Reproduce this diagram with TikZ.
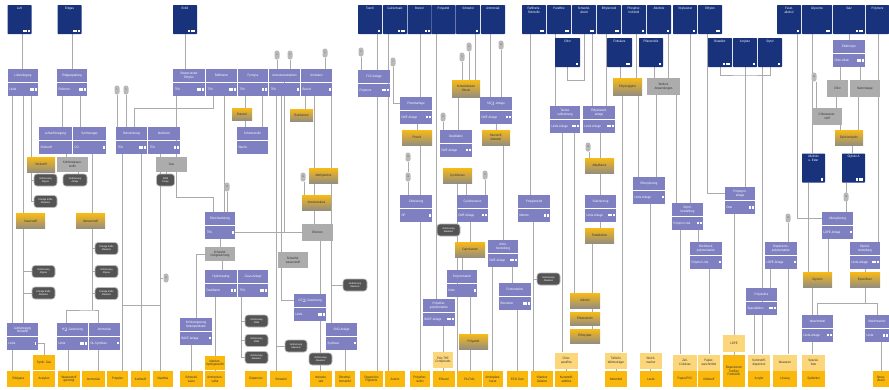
\documentclass[tikz,border=0pt]{standalone}
\usepackage{fontspec}
\setmainfont{Liberation Sans}[FakeStretch=0.85]
\usetikzlibrary{backgrounds}
\definecolor{rawC}{RGB}{24,50,124}
\definecolor{plantC}{RGB}{126,128,194}
\definecolor{prodC}{RGB}{248,186,22}
\definecolor{prodB}{RGB}{150,142,126}
\definecolor{endC}{RGB}{250,184,12}
\definecolor{paleC}{RGB}{252,214,122}
\definecolor{greyC}{RGB}{172,172,172}
\definecolor{pillC}{RGB}{84,84,84}
\definecolor{linkC}{RGB}{170,170,170}
\newcommand\fs{\fontsize{3.3}{3.7}\selectfont}
\newcommand\fss{\fontsize{2.5}{2.9}\selectfont}
\newcommand\pips[1]{\ifnum#1>0 \foreach\k in {1,...,#1}{\kern0.6pt\rule{1.9pt}{2.3pt}}\fi}
\newcommand\rawtxt[3][20pt]{\parbox[c][25pt][s]{#1}{\centering #2\par\vfill\raggedleft\pips{#3}\par}}
% plant box: name, x, top y, width, title, subline, pips
\newcommand\plant[7]{%
  \node[ptop,minimum width=#4] (#1) at (#2,#3) {#5};
  \node[pbot] (#1b) at ([yshift=-0.7pt]#1.south) {\makebox[\dimexpr#4pt-3pt\relax]{#6\hfill\pips{#7}}};}
\newcommand\vl[3]{\draw[link] (#3,0 |- #1.south) -- (#3,0 |- #2.north);}

\begin{document}
\begin{tikzpicture}[x=1pt,y=-1pt,font=\fs,
 raw/.style={fill=rawC,text=white,rounded corners=0.6pt,inner sep=2pt},
 ptop/.style={fill=plantC,text=white,anchor=north,minimum height=13,inner sep=1pt,align=center},
 pbot/.style={fill=plantC,text=white,anchor=north,minimum height=12.5,inner xsep=1.5pt,inner ysep=0.5pt},
 prod/.style={top color=prodC,middle color=prodC,bottom color=prodB,text=black!80,minimum width=29,minimum height=15,inner sep=0.5pt,align=center},
 grey/.style={fill=greyC,text=black!80,minimum width=30,minimum height=16,inner sep=0.5pt,align=center},
 pale/.style={fill=paleC,text=black!80,minimum width=22,minimum height=16,inner sep=0.5pt,align=center},
 endp/.style={fill=endC,text=black!80,minimum width=22,minimum height=16,inner sep=0.5pt,align=center},
 pill/.style={fill=pillC,draw=gray!55,line width=0.7pt,rounded corners=3pt,text=white,minimum width=22,minimum height=12,inner sep=0.3pt,align=center,font=\fss},
 infom/.style={fill=gray!55,rounded corners=2.3pt,minimum width=5,minimum height=9,inner sep=0pt,font=\fss,text=black!60},
 link/.style={draw=linkC,line width=0.8pt}]
\useasboundingbox (0,0) rectangle (889,389);

% raw materials
\node[raw] (luft) at (19.5,19.5) {\rawtxt{Luft}{3}};
\node[raw] (erdgas) at (69.5,19.5) {\rawtxt{Erdgas}{3}};
\node[raw] (erdoel) at (185,19.5) {\rawtxt{Erdöl}{3}};
\node[raw] (thor) at (370,19.5) {\rawtxt{Teeröl}{1}};
\node[raw] (calc) at (395,19.5) {\rawtxt{Calciumsalz}{3}};
\node[raw] (benz) at (419.5,19.5) {\rawtxt{Benzol}{2}};
\node[raw] (polyam) at (443.5,19.5) {\rawtxt{Polyamid}{0}};
\node[raw] (schwe) at (468,19.5) {\rawtxt{Schwefel}{1}};
\node[raw] (ammon) at (493,19.5) {\rawtxt{Ammoniak}{0}};
\node[raw] (roh) at (534,19.5) {\rawtxt{Raffinerie-\\Rohstoffe}{2}};
\node[raw] (para) at (559,19.5) {\rawtxt{Paraffine}{2}};
\node[raw] (so2) at (584,19.5) {\rawtxt{Schwefel-\\dioxid}{2}};
\node[raw] (etox) at (609,19.5) {\rawtxt{Ethylenoxid}{2}};
\node[raw] (phos) at (634,19.5) {\rawtxt{Phosphor-\\trichlorid}{1}};
\node[raw] (alko) at (659,19.5) {\rawtxt{Alkohole}{1}};
\node[raw] (viny) at (685,19.5) {\rawtxt{Vinylacetat}{1}};
\node[raw] (ethy) at (710,19.5) {\rawtxt{Ethylen}{2}};
\node[raw] (fus) at (789,19.5) {\rawtxt{Fusel-\\alkohol}{1}};
\node[raw] (glc) at (817,19.5) {\rawtxt[26pt]{Glycerine}{2}};
\node[raw] (salz) at (849,19.5) {\rawtxt[28pt]{Salz}{3}};
\node[raw] (polym) at (877.5,19.5) {\rawtxt[19pt]{Polymere}{0}};
\node[raw] (chlor) at (567.5,52.5) {\rawtxt[21pt]{Chlor}{1}};
\node[raw] (fett) at (619.5,52.5) {\rawtxt[21pt]{Fettsäure}{2}};
\node[raw] (pfl) at (651,52.5) {\rawtxt[20pt]{Pflanzenöle}{1}};
\node[raw] (buta) at (720,52.5) {\rawtxt{Butadien}{3}};
\node[raw] (acry) at (745,52.5) {\rawtxt{Acrylate}{1}};
\node[raw] (styro) at (770,52.5) {\rawtxt{Styrol}{1}};
\node[raw] (alkest) at (813.5,168) {\rawtxt[19pt]{Alkohole\\u. Ester}{1}};
\node[raw] (glykA) at (853.5,168) {\rawtxt[19pt]{Glykole A}{3}};

% plants
\plant{luz}{23}{69}{30}{Luftzerlegung}{Linde}{3}
\plant{egs}{72}{69}{30}{Erdgasspaltung}{Reformer}{3}
\plant{stc}{189}{69}{32}{Steamcracker\\Ethylen}{75\%}{3}
\plant{raf}{221.5}{69}{31}{Raffination}{75\%}{3}
\plant{pyr}{253}{69}{30}{Pyrolyse}{75\%}{2}
\plant{aro}{284.5}{69}{31}{Aromatenextraktion}{75\%}{1}
\plant{bzl}{316.5}{69}{31}{Aromaten}{Benzol}{1}
\plant{fcc}{374}{70}{32}{FCC-Anlage}{Polymere}{3}
\plant{phen}{416}{97}{32}{Phenolanlage}{DMF-Anlage}{2}
\plant{so3}{496}{97}{32}{SO$_3$-Anlage}{DMF-Anlage}{2}
\plant{tens}{565}{106}{30}{Tensid-\\sulfonierung}{Linde Anlage}{3}
\plant{eox}{599}{106}{32}{Ethylenoxid-\\anlage}{Linde Anlage}{3}
\plant{elek}{849}{40}{32}{Elektrolyse}{Chlor-Alkali}{3}
\plant{lvf}{55.5}{127}{33}{Luftverflüssigung}{Stickstoff}{0}
\plant{syn}{89.5}{127}{33}{Synthesegas}{CO}{1}
\plant{ref}{131.5}{127}{31}{Reformierung}{75\%}{3}
\plant{meoh}{164}{127}{32}{Methanol}{75\%}{2}
\plant{wax}{252.5}{127}{31}{Schmierstoffe}{Wachs}{0}
\plant{dmf}{456}{130}{32}{Destillation}{DMF-Anlage}{2}
\plant{ethox}{649}{177}{32}{Ethoxylierung}{Linde Anlage}{1}
\plant{pst}{740}{187}{30}{Polystyrol-\\anlage}{Dow}{2}
\plant{chl}{416}{195}{32}{Chlorierung}{OP}{1}
\plant{cyc}{472.5}{195}{31}{Cyclohexanon}{DMF-Anlage}{2}
\plant{pox}{534}{195}{32}{Propylenoxid}{Metrum}{2}
\plant{sulf}{600.5}{195}{31}{Sulfonierung}{Linde Anlage}{3}
\plant{styr}{687.5}{203}{31}{Styrol-\\herstellung}{Polymer Linie}{2}
\plant{alkox}{837.5}{212}{31}{Alkoxylierung}{LDPE-Anlage}{1}
\plant{entsch}{220}{212}{30}{Entschwefelung}{75\%}{1}
\plant{amin}{503}{240}{30}{Amin-\\herstellung}{DMF-Anlage}{3}
\plant{hdp}{706}{242}{32}{Hochdruck-\\polymerisation}{Polymer Linie}{1}
\plant{dsp}{781}{242}{32}{Dispersions-\\polymerisation}{LDPE-Anlage}{1}
\plant{epox}{865}{242}{30}{Epoxid-\\herstellung}{Linde-Anlage}{3}
\plant{hydr}{221}{270}{32}{Hydrotreating}{Destillation}{2}
\plant{claus}{253}{270}{30}{Claus-Anlage}{75\%}{3}
\plant{poly}{462}{270}{30}{Polymerisation}{Kette}{1}
\plant{gaer}{515}{283}{32}{Fermentation}{Bioreaktor}{3}
\plant{polyo}{761.5}{288}{31}{Polyolefine}{Spezialitäten}{3}
\plant{co2}{310}{294}{32}{CO$_2$-Gewinnung}{Linde}{3}
\plant{pether}{439}{299}{32}{Polyether-\\polymerisation}{BASF-Anlage}{3}
\plant{wasch}{817.5}{315}{31}{Waschmittel}{Linde-Anlage}{2}
\plant{weich}{877}{315}{24}{Weichmacher}{Linde}{2}
\plant{kohle}{196}{318}{32}{Kohlevergasung\\Nebenprodukte}{BASF-Anlage}{1}
\plant{luz2}{22.5}{323}{31}{Luftzerlegung\\Stickstoff}{Linde}{1}
\plant{h2}{72.5}{323}{31}{H$_2$-Gewinnung}{Linde}{3}
\plant{nh3}{104.5}{323}{31}{Ammoniak}{OL-Synthese}{1}
\plant{sng}{341.5}{323}{31}{SNG-Anlage}{Synthese}{1}

% intermediates
\node[prod,minimum width=28] (eisen) at (41,164.5) {Stickstoff};
\node[grey,minimum width=31,minimum height=15] (acgas) at (72.5,164.5) {Kohlenwasser-\\stoffe};
\node[grey,minimum width=31,minimum height=15] (gas) at (171.5,164.5) {Gas};
\node[prod] (sauer) at (30.5,221) {Sauerstoff};
\node[prod] (wass) at (90.5,221) {Wasserstoff};
\node[prod,minimum width=20,minimum height=12] (butol) at (242,114) {Butanol};
\node[prod,minimum width=23,minimum height=12] (rbz) at (301.5,115) {Reinbenzol};
\node[prod] (meam) at (323.5,175.5) {Methylamine};
\node[prod] (amei) at (316.5,202.5) {Ameisensäure};
\node[grey,minimum width=31,minimum height=17] (bitu) at (317.5,232.5) {Bitumen};
\node[grey] (h2s) at (293,260) {Schwefel-\\wasserstoff};
\node[grey,minimum height=14] (schw) at (220,254) {Schwefel-\\rückgewinnung};
\node[prod,minimum width=30] (phenol) at (417,137.5) {Phenol};
\node[prod,minimum width=28] (harn) at (496,137.5) {Harnstoff,\\Melamin};
\node[prod,minimum width=28,minimum height=17] (oleum) at (466,88.5) {Schwefelsäure\\Oleum};
\node[prod] (cyclo) at (457.5,175.5) {Cyclohexan};
\node[prod,minimum width=30] (capro) at (470,249.5) {Caprolactam};
\node[prod] (alkyd) at (599.5,165.5) {Alkydharze};
\node[prod] (fetta) at (599.5,235.5) {Fettalkohole};
\node[prod,minimum height=17] (glyk) at (627.5,86.5) {Ethylenglykol};
\node[grey,minimum width=33,minimum height=17] (wei) at (663.5,86.5) {Weitere\\Anwendungen};
\node[grey,minimum width=21,minimum height=17] (chlor2) at (837.5,88.5) {Chlor};
\node[grey,minimum height=17] (natr) at (865,88.5) {Natronlauge};
\node[grey,minimum height=17] (chlm) at (827,116.5) {Chlorwasser-\\stoff};
\node[prod,minimum width=28] (epi) at (849,137.5) {Epichlorhydrin};
\node[prod] (pamid) at (473.5,341.5) {Polyamid};
\node[prod,minimum width=30] (alk) at (585,300.5) {Alkohol};
\node[prod,minimum width=30,minimum height=13] (ethan) at (585,318.5) {Ethanolamin};
\node[prod,minimum width=30,minimum height=14] (ethox2) at (585,336) {Ethoxylate};
\node[prod] (glyc) at (817.5,279.5) {Glycerin};
\node[prod,minimum width=30] (epoxh) at (865,279.5) {Epoxidharz};

% pale and end products
\node[endp,minimum height=15] (syng) at (44,362.5) {Synth. Gas};
\node[endp,minimum width=20,minimum height=14] (natrh) at (215,363) {Natrium-\\hydrogensulfit};
\node[pale,minimum width=20] (ptfh) at (443,360) {Poly-THF\\Compounds};
\node[pale,minimum width=23] (chlp) at (566.5,360.5) {Chlor-\\paraffine};
\node[pale] (tief) at (616,360.5) {Tiefkühl-\\Wärmeträger};
\node[pale] (weichm) at (651,360.5) {Weich-\\macher};
\node[pale,minimum width=24] (zell) at (685,362.5) {Zell-\\Cellulose};
\node[pale] (papi) at (709,362.5) {Papier-\\waschmittel};
\node[pale,minimum height=17] (ldpe) at (734,343.5) {LDPE};
\node[pale] (kunst) at (759,362.5) {Kunststoff-\\dispersion};
\node[pale,minimum width=24] (abw) at (785,362.5) {Abwasser};
\node[pale,minimum width=23] (spart) at (813.5,362.5) {Spezial-\\fette};
\node[endp,minimum width=23] (edel) at (18.5,379) {Edelgase};
\node[endp] (acet) at (44,379) {Acetylen};
\node[endp] (wasg) at (69,379) {Wasserstoff\\gereinigt};
\node[endp,minimum width=23] (ammo) at (93.5,379) {Ammoniak};
\node[endp,minimum width=21] (prop) at (117.5,379) {Propylen};
\node[endp,minimum width=19] (kraft) at (140.5,379) {Kraftstoff};
\node[endp,minimum width=20] (naph) at (163,379) {Naphtha};
\node[endp,minimum width=23] (schsr) at (191.5,379) {Schwefel-\\säure};
\node[endp,minimum width=20] (amsu) at (215,379) {Ammonium-\\sulfat};
\node[endp] (dispb) at (256,379) {Dispersion};
\node[endp] (schwb) at (281,379) {Schwefel};
\node[endp] (indsa) at (321,379) {Industrie-\\salz};
\node[endp,minimum width=20] (dmfb) at (345,379) {Dimethyl-\\formamid};
\node[endp,minimum width=23] (pig) at (371.5,379) {Organische\\Pigmente};
\node[endp,minimum width=20] (acet2) at (395,379) {Aceton};
\node[endp,minimum width=20] (pesu) at (420,379) {Polyether-\\sulfon};
\node[endp] (etoh) at (444,379) {Ethanol};
\node[endp,minimum width=25] (pafo) at (469.5,379) {PA-Folie};
\node[endp,minimum width=20] (amino) at (493,379) {Aminoplast-\\harze};
\node[endp,minimum width=21] (ecog) at (517.5,379) {ECO Gum};
\node[endp] (vita) at (542,379) {Vitamine\\Gelatine};
\node[endp,minimum width=23] (kadd) at (566.5,379) {Kunststoff-\\additive};
\node[endp] (netz) at (616,379) {Netzmittel};
\node[endp] (lack) at (651,379) {Lacke};
\node[endp,minimum width=24] (pvc) at (685,379) {Papier/PVC};
\node[endp] (kleb) at (709,379) {Klebstoff};
\node[endp,minimum height=32] (farb) at (734,371) {Dispersionen\\Textilien\\Farbstoffe};
\node[endp] (acrt) at (759,379) {Acrylat};
\node[endp,minimum width=24] (loes) at (785,379) {Lösung};
\node[endp,minimum width=23] (spuel) at (813.5,379) {Spülmittel};
\node[endp,minimum width=16] (spray) at (881,379) {Spray-\\dosen};

% disposal
\node[pill,minimum width=23] (p1) at (45.5,180) {Verbrennung\\Abgase};
\node[pill,minimum width=24] (p2) at (75,180) {Verbrennung\\Anlage};
\node[pill,minimum width=23] (p3) at (45.5,201.5) {Flüssige Stoffe\\Abwasser};
\node[pill,minimum width=18] (p4) at (165.5,180) {Abfall\\Anlage};
\node[pill,minimum width=23] (p5) at (106.5,248.5) {Flüssige Stoffe\\Abwasser};
\node[pill,minimum width=23] (p6) at (43.5,271.5) {Verbrennung\\Abgase};
\node[pill,minimum width=23] (p7) at (43.5,293) {Flüssige Stoffe\\Abwasser};
\node[pill,minimum width=23] (p8) at (106.5,271.5) {Verbrennung\\Abgase};
\node[pill,minimum width=23] (p9) at (106.5,293.5) {Flüssige Stoffe\\Abwasser};
\node[pill,minimum width=23] (p10) at (256.5,321) {Verbrennung\\Abfall};
\node[pill,minimum width=23] (p11) at (256.5,340.5) {Verbrennung\\Abfall};
\node[pill,minimum width=23] (p12) at (256.5,357.5) {Verbrennung\\Abwasser};
\node[pill] (p13) at (296,346) {Verbrennung\\Abwasser};
\node[pill,minimum width=24] (p14) at (355,285) {Verbrennung\\Abwasser};
\node[pill,minimum width=23] (p15) at (320.5,359) {Verbrennung\\Abwasser};
\node[pill,minimum width=23] (p16) at (448.5,230) {Verbrennung\\Abwasser};
\node[pill,minimum width=23] (p17) at (548.5,279) {Verbrennung\\Abwasser};

% info markers
\foreach \n/\x/\y in {1/117/90,2/126/90,3/277/55,4/290/55,5/325/53,6/361/52,7/393/62,8/469/47,9/462/57,10/501/45,11/443/117,12/814/77,13/303/177,14/227/187,15/408/157,16/408/177,17/485/175,18/588/147,19/846/197,20/788/218,21/166/278}
  \node[infom] (m\n) at (\x,\y) {\n};

\coordinate (j108) at (213,108);
\coordinate (j197) at (213,197);
\coordinate (jh2) at (92,310);
\coordinate (jnaph) at (160,305);
\coordinate (jso2) at (584,80);
\coordinate (jbut) at (745,75);
\coordinate (jep) at (865,303);

\begin{scope}[on background layer]
% left part
\vl{luft}{luz}{22} \vl{erdgas}{egs}{72} \vl{erdoel}{stc}{185}
\vl{luzb}{luz2}{12} \vl{luz2b}{edel}{12}
\vl{luzb}{sauer}{23} \vl{sauer}{luz2}{23}
\draw[link] (23,0 |- p6.west) -- (p6.west);
\draw[link] (23,0 |- p7.west) -- (p7.west);
\vl{luzb}{eisen}{31}
\draw[link] (31,0 |- eisen.south) |- (p3.west);
\draw[link] (31,0 |- p1.west) -- (p1.west);
\vl{egsb}{lvf}{62} \vl{egsb}{syn}{80}
\vl{lvfb}{acgas}{66} \vl{acgas}{p2}{78}
\vl{synb}{wass}{92}
\draw[link] (92,0 |- wass.south) -- (jh2);
\draw[link] (66,0 |- h2.north) |- (jh2) -| (98,0 |- nh3.north);
\draw[link] (92,0 |- p5.west) -- (p5.west);
\draw[link] (92,0 |- p8.west) -- (p8.west);
\draw[link] (92,0 |- p9.west) -- (p9.west);
\vl{h2b}{wasg}{68} \vl{nh3b}{ammo}{98}
\draw[link] (luz2b.east) -| (syng.north);
\vl{m1}{ref}{117} \vl{m2}{ref}{126}
\draw[link] (134,0 |- ref.north) |- (j108) -- (j108 |- rafb.south);
\draw[link] (176,0 |- stcb.south) |- (j197) -- (j197 |- entsch.north);
\vl{rafb}{entsch}{224}
\vl{refb}{prop}{122} \vl{refb}{kraft}{141} \vl{meohb}{naph}{160}
\draw[link] (122,0 |- refb.south) |- (jnaph);
\draw[link] (m21.west) -- (m21.west -| jnaph);
\vl{gas}{p4}{166}
% middle part
\vl{m14}{entsch}{227} \vl{entschb}{schw}{220} \vl{schw}{hydr}{222}
\draw[link] (schw.west) -| (kohle.north);
\draw[link] (entschb.east) -| (aro.south);
\draw[link] (aro.south |- bitu.west) -- (bitu.west);
\vl{arob}{h2s}{281}
\draw[link] (281,0 |- h2s.south) |- (co2.west);
\vl{arob}{schwb}{276}
\draw[link] (276,0 |- p13.west) -- (p13.west);
\vl{m3}{aro}{277} \vl{m4}{aro}{290} \vl{m5}{bzl}{325} \vl{m6}{fcc}{361}
\vl{pyrb}{butol}{245} \vl{butol}{wax}{245} \vl{pyrb}{wax}{262}
\vl{bzlb}{rbz}{305} \vl{bzlb}{meam}{314} \vl{meam}{amei}{314} \vl{amei}{bitu}{314}
\vl{m13}{amei}{304} \vl{bitu}{co2}{320}
\vl{co2b}{p15}{320} \vl{p15}{indsa}{320}
\vl{bzlb}{sng}{331}
\draw[link] (331,0 |- p14.west) -- (p14.west);
\vl{sngb}{dmfb}{345}
\draw[link] (241,0 |- clausb.south) |- (p12.west);
\draw[link] (241,0 |- p10.west) -- (p10.west);
\draw[link] (241,0 |- p11.west) -- (p11.west);
\vl{hydrb}{natrh}{215} \vl{natrh}{amsu}{215}
\vl{kohleb}{schsr}{191}
\vl{thor}{fcc}{377} \vl{fccb}{pig}{377}
\vl{calc}{acet2}{388}
\draw[link] (m7.south) |- (phen.west);
\vl{benz}{phen}{420} \vl{phenb}{phenol}{417} \vl{phenol}{chl}{420}
\draw[link] (m15) -- (m16);
\vl{m16}{chl}{408} \vl{chlb}{pesu}{420}
\vl{polyam}{pether}{436}
\draw[link] (436,0 |- p16.west) -- (p16.west);
\vl{m11}{dmf}{443} \vl{petherb}{ptfh}{443} \vl{ptfh}{etoh}{443}
\vl{schwe}{oleum}{475} \vl{m8}{oleum}{469} \vl{m9}{oleum}{462}
\vl{oleum}{dmf}{458}
\vl{ammon}{so3}{490} \vl{m10}{so3}{501}
\vl{so3b}{harn}{496} \vl{harn}{amin}{503}
\vl{dmfb}{cyclo}{457} \vl{cyclo}{cyc}{466} \vl{m17}{cyc}{485}
\vl{cycb}{capro}{470} \vl{capro}{poly}{462} \vl{polyb}{pamid}{470} \vl{pamid}{pafo}{470}
\vl{aminb}{amino}{492} \vl{aminb}{gaer}{512} \vl{gaerb}{ecog}{517}
\vl{roh}{pox}{530} \vl{poxb}{vita}{533}
\draw[link] (533,0 |- p17.west) -- (p17.west);
\vl{para}{tens}{555}
\draw[link] (chlor.south) |- (jso2) -- (so2.south);
\vl{so2}{eox}{592} \vl{etox}{eox}{606}
\vl{tensb}{chlp}{562} \vl{tensb}{alk}{574} \vl{chlp}{kadd}{566}
\vl{eoxb}{alkyd}{600} \vl{m18}{alkyd}{589}
\vl{alkyd}{sulf}{600} \vl{sulfb}{fetta}{600} \vl{fetta}{alk}{592}
\vl{alk}{ethan}{592} \vl{ethan}{ethox2}{592}
% right part
\vl{fett}{glyk}{620} \vl{phos}{glyk}{636}
\vl{glyk}{tief}{622} \vl{tief}{netz}{616}
\vl{pfl}{wei}{654} \vl{alko}{wei}{668} \vl{wei}{ethox}{656}
\vl{glyk}{ethox}{638} \vl{ethoxb}{weichm}{650} \vl{weichm}{lack}{650}
\vl{viny}{styr}{690} \vl{wei}{styr}{676}
\draw[link] (707,0 |- ethy.south) |- (pst.west);
\draw[link] (buta.south) |- (jbut) -| (styro.south);
\vl{acry}{pst}{745} \vl{styro}{kunst}{762}
\vl{pstb}{ldpe}{734} \vl{ldpe}{farb}{734}
\vl{styrb}{hdp}{698} \vl{styrb}{zell}{680} \vl{zell}{pvc}{685}
\vl{hdpb}{papi}{709} \vl{papi}{kleb}{709}
\vl{dspb}{polyo}{770} \vl{polyob}{kunst}{754} \vl{kunst}{acrt}{759}
\vl{dspb}{abw}{788} \vl{abw}{loes}{785} \vl{m20}{dsp}{788}
\draw[link] (797,0 |- fus.south) |- (alkox.west);
\vl{glc}{alkest}{812} \vl{alkest}{glyc}{808} \vl{alkoxb}{glyc}{828}
\vl{glyc}{wasch}{812} \vl{waschb}{spart}{812} \vl{spart}{spuel}{813}
\vl{salz}{elek}{849}
\vl{elekb}{chlor2}{840} \vl{elekb}{natr}{860}
\vl{m12}{chlm}{816} \vl{chlor2}{chlm}{836} \vl{chlm}{epi}{840} \vl{natr}{epi}{858}
\vl{epi}{glykA}{852} \vl{glykA}{alkox}{846}
\vl{polym}{epox}{878} \vl{epoxb}{epoxh}{865}
\draw[link] (epoxh.south) -- (jep) -| (wasch.north);
\draw[link] (jep) -| (weich.north);
\vl{weichb}{spray}{881}
\end{scope}
\end{tikzpicture}
\end{document}
